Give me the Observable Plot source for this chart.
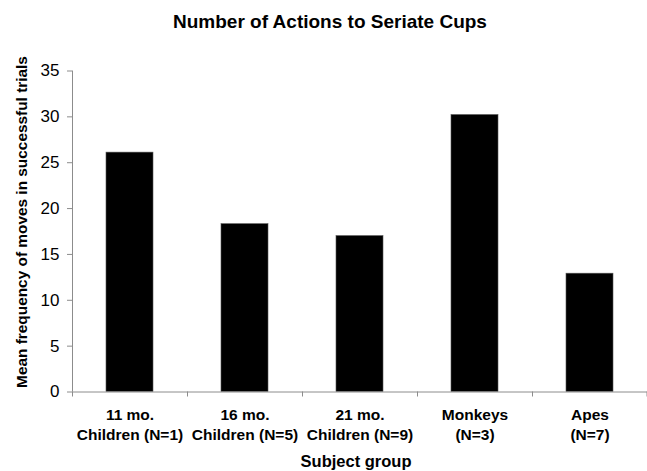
<!DOCTYPE html>
<html><head><meta charset="utf-8">
<script src="https://cdn.jsdelivr.net/npm/d3@7"></script>
<script src="https://cdn.jsdelivr.net/npm/@observablehq/plot@0.6"></script>
<style>
body{margin:0;background:#fff;font-family:Arial,"Liberation Sans",sans-serif;}
#title{box-sizing:border-box;height:40px;padding-top:12px;padding-left:13px;width:647px;text-align:center;font-weight:bold;font-size:19px;line-height:19px;color:#000;}
</style></head><body>
<div id="title">Number of Actions to Seriate Cups</div>
<div id="chart"></div>
<script>
const categories = ["11 mo. Children", "16 mo. Children", "21 mo. Children", "Monkeys", "Apes"];
const tickLine1 = ["11 mo.", "16 mo.", "21 mo.", "Monkeys", "Apes"];
const tickLine2 = ["Children (N=1)", "Children (N=5)", "Children (N=9)", "(N=3)", "(N=7)"];
const values = [26.1, 18.3, 17.0, 30.2, 12.9];
const yTicks = [0, 5, 10, 15, 20, 25, 30, 35];
const yLabel = "Mean frequency of moves in successful trials";
const xLabel = "Subject group";

const W = 647, H = 431, ML = 72, MR = 0, MT = 30.5, MB = 79.5;
const step = (W - ML - MR) / categories.length;
const data = categories.map((c, i) => ({cat: c, value: values[i], label: tickLine1[i] + "\n" + tickLine2[i]}));
const axisGray = "#8c8c8c";

const chart = Plot.plot({
  width: W, height: H,
  marginLeft: ML, marginRight: MR, marginTop: MT, marginBottom: MB,
  style: {fontFamily: "Arial, 'Liberation Sans', sans-serif", background: "#fff", color: "#000"},
  x: {domain: categories, paddingInner: 0.59, paddingOuter: 0.295, axis: null},
  y: {domain: [0, 35], axis: null},
  marks: [
    Plot.barY(data, {x: "cat", y: "value", fill: "#000", stroke: "#555", strokeWidth: 0.6}),
    // y axis line
    Plot.ruleX([categories[0]], {dx: -step / 2, y1: 0, y2: 35, stroke: axisGray, strokeWidth: 1}),
    // y ticks + labels
    Plot.axisY({ticks: yTicks, tickSize: 5, tickPadding: 8, fontSize: 17, stroke: axisGray, label: null, tickFormat: d => String(d), color: "#000"}),
    // x axis line
    Plot.ruleY([0], {stroke: axisGray, strokeWidth: 1}),
    // x boundary ticks
    Plot.ruleX(categories, {x: d => d, dx: -step / 2, y1: 0, y2: 0, insetBottom: -5, stroke: axisGray}),
    Plot.ruleX([categories[categories.length - 1]], {dx: step / 2 - 0.5, y1: 0, y2: 0, insetBottom: -5, stroke: axisGray}),
    // x tick labels (two lines)
    Plot.text(data, {x: "cat", text: "label", frameAnchor: "bottom", lineAnchor: "top", dy: 14, fontSize: 15.5, fontWeight: "bold", lineHeight: 1.28, fill: "#000"}),
    // axis titles
    Plot.text([yLabel], {text: d => d, frameAnchor: "left", textAnchor: "middle", rotate: -90, dx: -50, dy: -9.5, fontSize: 15.4, fontWeight: "bold", fill: "#000"}),
    Plot.text([xLabel], {text: d => d, frameAnchor: "bottom", textAnchor: "middle", dx: -4, dy: 75, fontSize: 16.5, fontWeight: "bold", fill: "#000"})
  ]
});
document.getElementById("chart").appendChild(chart);
</script>
</body></html>
